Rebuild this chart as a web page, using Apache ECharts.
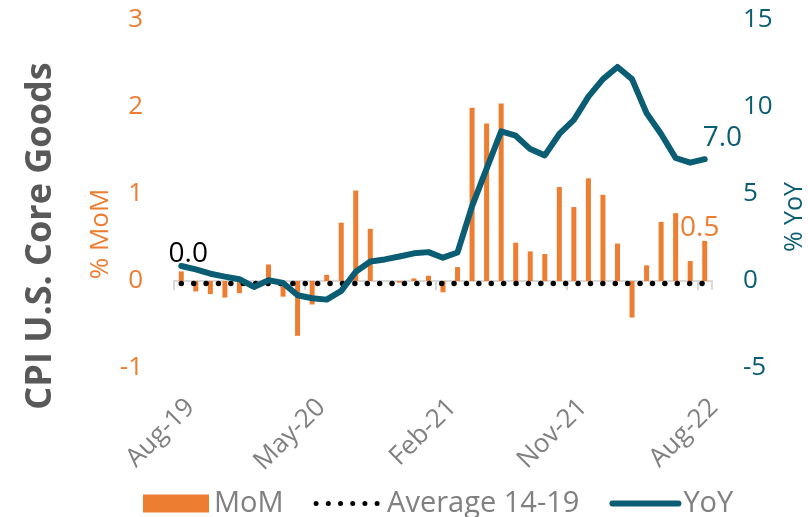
<!DOCTYPE html>
<html><head><meta charset="utf-8">
<script src="https://cdn.jsdelivr.net/npm/echarts/dist/echarts.min.js"></script>
<style>html,body{margin:0;padding:0;background:#fff}#c{width:808px;height:517px}</style>
</head><body><div id="c"></div>
<script>
const months = ['Aug-19','Sep-19','Oct-19','Nov-19','Dec-19','Jan-20','Feb-20','Mar-20','Apr-20','May-20','Jun-20','Jul-20','Aug-20','Sep-20','Oct-20','Nov-20','Dec-20','Jan-21','Feb-21','Mar-21','Apr-21','May-21','Jun-21','Jul-21','Aug-21','Sep-21','Oct-21','Nov-21','Dec-21','Jan-22','Feb-22','Mar-22','Apr-22','May-22','Jun-22','Jul-22','Aug-22'];
const momValues = [0.11,-0.12,-0.15,-0.19,-0.14,0.0,0.19,-0.18,-0.63,-0.27,0.07,0.67,1.04,0.6,0.0,-0.02,0.03,0.06,-0.13,0.16,1.99,1.81,2.04,0.44,0.34,0.31,1.08,0.85,1.18,0.99,0.43,-0.42,0.18,0.68,0.78,0.23,0.46];
const yoyValues = [0.86,0.67,0.42,0.25,0.1,-0.34,0.04,-0.11,-0.82,-0.99,-1.07,-0.57,0.53,1.12,1.24,1.41,1.59,1.66,1.34,1.64,4.3,6.46,8.6,8.35,7.58,7.22,8.45,9.26,10.6,11.6,12.3,11.6,9.65,8.45,7.07,6.8,7.0];
const avg14to19 = -0.03;
const legendNames = ['MoM','Average 14-19','YoY'];

const ORANGE = '#ED7D31', TEAL = '#0B5D73', GREY = '#808080';
const FONT = '"Open Sans", sans-serif';
const fmt1 = v => (Math.round(v * 10) / 10 + 0).toFixed(1);

const chart = echarts.init(document.getElementById('c'));
const lastIdx = momValues.length - 1;
chart.setOption({
  animation: false,
  textStyle: { fontFamily: FONT },
  grid: { left: 174, right: 96, top: 20, bottom: 149 },
  legend: {
    left: 138, top: 484, itemWidth: 66, itemHeight: 18, itemGap: 30,
    textStyle: { fontSize: 29, color: GREY, fontFamily: FONT },
    data: [
      { name: legendNames[0], icon: 'rect' },
      { name: legendNames[1], itemStyle: { opacity: 0, borderWidth: 0 }, lineStyle: { width: 5, type: [0, 12.2], cap: 'round', color: '#000' } },
      { name: legendNames[2], itemStyle: { opacity: 0, borderWidth: 0 }, lineStyle: { width: 6, cap: 'round', color: TEAL } }
    ]
  },
  xAxis: [
    { type: 'category', data: months, boundaryGap: true,
      axisLine: { onZero: true, lineStyle: { color: '#d9d9d9', width: 2 } },
      axisTick: { show: true, interval: 8, length: 9, lineStyle: { color: '#d9d9d9', width: 2 } },
      axisLabel: { show: false } },
    { type: 'category', data: months, position: 'bottom', boundaryGap: true,
      axisLine: { show: false, onZero: false }, axisTick: { show: false },
      axisLabel: { interval: 8, rotate: 45, margin: 26, verticalAlign: 'top', fontSize: 26, color: GREY, fontFamily: FONT } }
  ],
  yAxis: [
    { type: 'value', min: -1, max: 3, interval: 1, splitLine: { show: false }, axisLine: { show: false }, axisTick: { show: false },
      axisLabel: { fontSize: 26, color: ORANGE, margin: 31, fontFamily: FONT } },
    { type: 'value', min: -5, max: 15, interval: 5, position: 'right', splitLine: { show: false }, axisLine: { show: false }, axisTick: { show: false },
      axisLabel: { fontSize: 26, color: TEAL, margin: 31, fontFamily: FONT } }
  ],
  series: [
    { name: legendNames[0], type: 'bar', barWidth: 5, itemStyle: { color: ORANGE },
      data: momValues.map((v, i) => i === lastIdx ? { value: v, label: { show: true, position: 'top', formatter: p => fmt1(p.value), color: ORANGE, fontSize: 28, fontFamily: FONT, offset: [-5, 6] } } : v) },
    { name: legendNames[1], type: 'line', z: 3, symbol: 'none', showSymbol: false,
      lineStyle: { color: '#000', width: 5.5, type: [0, 12.4], cap: 'round' }, itemStyle: { color: '#000' },
      data: months.map(() => avg14to19),
      markPoint: { symbol: 'circle', symbolSize: 0, data: [{ coord: [0, avg14to19] }],
        label: { show: true, position: 'top', formatter: () => fmt1(avg14to19), color: '#000', fontSize: 28, fontFamily: FONT, offset: [7, -11] } } },
    { name: legendNames[2], type: 'line', yAxisIndex: 1, z: 4, symbol: 'none', showSymbol: false,
      lineStyle: { color: TEAL, width: 6, cap: 'round', join: 'round' }, itemStyle: { color: TEAL },
      data: yoyValues,
      endLabel: { show: true, formatter: p => fmt1(p.value), color: TEAL, fontSize: 28, fontFamily: FONT, offset: [-10, -21] } }
  ],
  graphic: [
    { type: 'text', x: 41, y: 236, rotation: Math.PI / 2,
      style: { text: 'CPI U.S. Core Goods', fontFamily: FONT, fontWeight: 'bold', fontSize: 36, fill: '#595959', align: 'center', verticalAlign: 'middle' } },
    { type: 'text', x: 101, y: 234, rotation: Math.PI / 2,
      style: { text: '% MoM', fontFamily: FONT, fontSize: 26, fill: ORANGE, align: 'center', verticalAlign: 'middle' } },
    { type: 'text', x: 795, y: 217, rotation: Math.PI / 2,
      style: { text: '% YoY', fontFamily: FONT, fontSize: 25, fill: TEAL, align: 'center', verticalAlign: 'middle' } }
  ]
});
</script>
</body></html>
